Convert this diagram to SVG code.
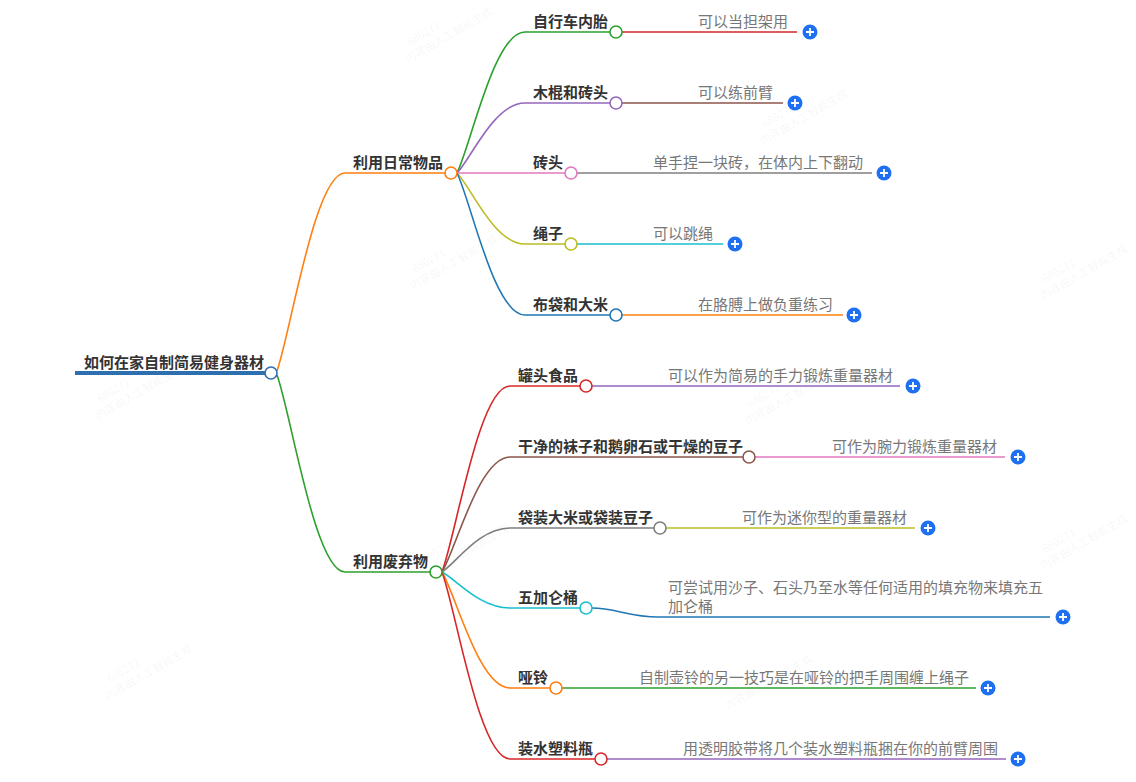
<svg xmlns="http://www.w3.org/2000/svg" width="1136" height="782" viewBox="0 0 1136 782">
<style>
text{font-family:"Noto Sans CJK SC","Noto Sans",sans-serif;font-size:15px}
.n{fill:#333;font-weight:bold}
.l{fill:#777}
.wm{fill:#000;fill-opacity:0.05;font-size:11px}
.c{fill:none;stroke-width:1.6}
.dot{fill:#fff;stroke-width:1.6}
.pb{fill:#1f6ff2}
.pl{stroke:#fff;stroke-width:1.8}
</style>
<defs>
<g id="plus"><circle class="pb" r="7.5"/><path class="pl" d="M-4 0H4M0 -4V4"/></g>
</defs>
<g id="watermarks">
<g transform="translate(405,58) rotate(-30)"><text class="wm" x="10" y="-8">686271</text><text class="wm" y="6">内容由人工智能生成</text></g>
<g transform="translate(760,140) rotate(-30)"><text class="wm" x="10" y="-8">686271</text><text class="wm" y="6">内容由人工智能生成</text></g>
<g transform="translate(1040,295) rotate(-30)"><text class="wm" x="10" y="-8">686271</text><text class="wm" y="6">内容由人工智能生成</text></g>
<g transform="translate(410,285) rotate(-30)"><text class="wm" x="10" y="-8">686271</text><text class="wm" y="6">内容由人工智能生成</text></g>
<g transform="translate(95,415) rotate(-30)"><text class="wm" x="10" y="-8">686271</text><text class="wm" y="6">内容由人工智能生成</text></g>
<g transform="translate(745,420) rotate(-30)"><text class="wm" x="10" y="-8">686271</text><text class="wm" y="6">内容由人工智能生成</text></g>
<g transform="translate(1040,565) rotate(-30)"><text class="wm" x="10" y="-8">686271</text><text class="wm" y="6">内容由人工智能生成</text></g>
<g transform="translate(420,575) rotate(-30)"><text class="wm" x="10" y="-8">686271</text><text class="wm" y="6">内容由人工智能生成</text></g>
<g transform="translate(105,695) rotate(-30)"><text class="wm" x="10" y="-8">686271</text><text class="wm" y="6">内容由人工智能生成</text></g>
<g transform="translate(725,705) rotate(-30)"><text class="wm" x="10" y="-8">686271</text><text class="wm" y="6">内容由人工智能生成</text></g>
</g>
<g id="connectors">
<path d="M75 373H265" stroke="#2e6fb0" stroke-width="4" fill="none"/>
<path class="c" stroke="#ff7f0e" d="M277 371C291 331 315 173 345 173H445"/>
<path class="c" stroke="#2ca02c" d="M277 375C291 413 315 572 345 572H430"/>
<path class="c" stroke="#2ca02c" d="M457 173C471 145 494 32 525 32H610"/>
<path class="c" stroke="#9467bd" d="M457 173C471 159 494 103 525 103H610"/>
<path class="c" stroke="#e377c2" d="M457 173H565"/>
<path class="c" stroke="#bcbd22" d="M457 173C471 187 494 244 525 244H565"/>
<path class="c" stroke="#1f77b4" d="M457 173C471 201 494 315 525 315H610"/>
<path class="c" stroke="#d62728" d="M442 572C456 535 479 386 510 386H580"/>
<path class="c" stroke="#8c564b" d="M442 572C456 549 479 457 510 457H743"/>
<path class="c" stroke="#7f7f7f" d="M442 572C456 563 479 528 510 528H654"/>
<path class="c" stroke="#17becf" d="M442 572C456 579 479 608 510 608H580"/>
<path class="c" stroke="#ff7f0e" d="M442 572C456 595 479 688 510 688H550"/>
<path class="c" stroke="#d62728" d="M442 572C456 609 479 759 510 759H595"/>
<path class="c" stroke="#d62728" d="M622 32H797"/>
<path class="c" stroke="#8c564b" d="M622 103H783"/>
<path class="c" stroke="#7f7f7f" d="M577 173H872"/>
<path class="c" stroke="#17becf" d="M577 244H723"/>
<path class="c" stroke="#ff7f0e" d="M622 315H843"/>
<path class="c" stroke="#9467bd" d="M592 386H900"/>
<path class="c" stroke="#e377c2" d="M755 457H1005"/>
<path class="c" stroke="#bcbd22" d="M666 528H915"/>
<path class="c" stroke="#1f77b4" d="M592 608C615 608 630 617 658 617H1050"/>
<path class="c" stroke="#2ca02c" d="M562 688H976"/>
<path class="c" stroke="#9467bd" d="M607 759H1006"/>
</g>
<g id="root"><text class="n" x="84" y="368">如何在家自制简易健身器材</text><circle class="dot" stroke="#2e6fb0" cx="271" cy="373" r="6"/></g>
<g id="b1"><text class="n" x="353" y="168">利用日常物品</text><circle class="dot" stroke="#ff7f0e" cx="451" cy="173" r="6"/></g>
<g id="b2"><text class="n" x="353" y="567">利用废弃物</text><circle class="dot" stroke="#2ca02c" cx="436" cy="572" r="6"/></g>
<g id="n1"><text class="n" x="533" y="27">自行车内胎</text><circle class="dot" stroke="#2ca02c" cx="616" cy="32" r="6"/></g>
<g id="n2"><text class="n" x="533" y="98">木棍和砖头</text><circle class="dot" stroke="#9467bd" cx="616" cy="103" r="6"/></g>
<g id="n3"><text class="n" x="533" y="168">砖头</text><circle class="dot" stroke="#e377c2" cx="571" cy="173" r="6"/></g>
<g id="n4"><text class="n" x="533" y="239">绳子</text><circle class="dot" stroke="#bcbd22" cx="571" cy="244" r="6"/></g>
<g id="n5"><text class="n" x="533" y="310">布袋和大米</text><circle class="dot" stroke="#1f77b4" cx="616" cy="315" r="6"/></g>
<g id="n6"><text class="n" x="518" y="381">罐头食品</text><circle class="dot" stroke="#d62728" cx="586" cy="386" r="6"/></g>
<g id="n7"><text class="n" x="518" y="452">干净的袜子和鹅卵石或干燥的豆子</text><circle class="dot" stroke="#8c564b" cx="749" cy="457" r="6"/></g>
<g id="n8"><text class="n" x="518" y="523">袋装大米或袋装豆子</text><circle class="dot" stroke="#7f7f7f" cx="660" cy="528" r="6"/></g>
<g id="n9"><text class="n" x="518" y="603">五加仑桶</text><circle class="dot" stroke="#17becf" cx="586" cy="608" r="6"/></g>
<g id="n10"><text class="n" x="518" y="683">哑铃</text><circle class="dot" stroke="#ff7f0e" cx="556" cy="688" r="6"/></g>
<g id="n11"><text class="n" x="518" y="754">装水塑料瓶</text><circle class="dot" stroke="#d62728" cx="601" cy="759" r="6"/></g>
<g id="l1"><text class="l" x="698" y="27">可以当担架用</text><use href="#plus" x="810" y="32"/></g>
<g id="l2"><text class="l" x="698" y="98">可以练前臂</text><use href="#plus" x="795" y="103"/></g>
<g id="l3"><text class="l" x="653" y="168">单手捏一块砖，在体内上下翻动</text><use href="#plus" x="884" y="173"/></g>
<g id="l4"><text class="l" x="653" y="239">可以跳绳</text><use href="#plus" x="735" y="244"/></g>
<g id="l5"><text class="l" x="698" y="310">在胳膊上做负重练习</text><use href="#plus" x="854" y="315"/></g>
<g id="l6"><text class="l" x="668" y="381">可以作为简易的手力锻炼重量器材</text><use href="#plus" x="913" y="386"/></g>
<g id="l7"><text class="l" x="832" y="452">可作为腕力锻炼重量器材</text><use href="#plus" x="1018" y="457"/></g>
<g id="l8"><text class="l" x="742" y="523">可作为迷你型的重量器材</text><use href="#plus" x="928" y="528"/></g>
<g id="l9"><text class="l" x="668" y="593">可尝试用沙子、石头乃至水等任何适用的填充物来填充五</text><text class="l" x="668" y="612">加仑桶</text><use href="#plus" x="1063" y="617"/></g>
<g id="l10"><text class="l" x="639" y="683">自制壶铃的另一技巧是在哑铃的把手周围缠上绳子</text><use href="#plus" x="988" y="688"/></g>
<g id="l11"><text class="l" x="683" y="754">用透明胶带将几个装水塑料瓶捆在你的前臂周围</text><use href="#plus" x="1018" y="759"/></g>
</svg>
